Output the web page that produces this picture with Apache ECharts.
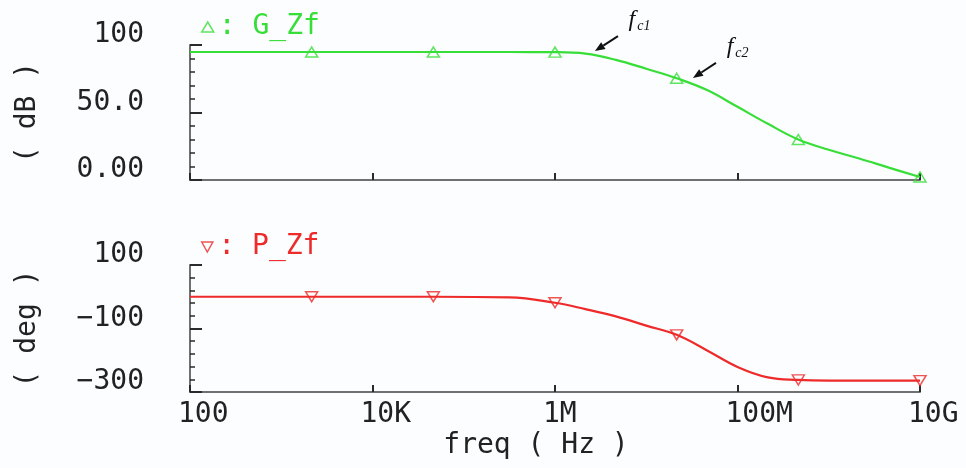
<!DOCTYPE html>
<html>
<head>
<meta charset="utf-8">
<script src="https://cdn.jsdelivr.net/npm/echarts@6/dist/echarts.min.js"></script>
<style>
html,body{margin:0;padding:0;background:#fbfdfe;}
#main{width:966px;height:468px;}
</style>
</head>
<body>
<div id="main"></div>
<script>
// ---- data ----
const freqHz = [100, 2154, 46416, 316228, 1000000, 2154435, 4641589, 10000000, 21544347,
  46415888, 100000000, 215443469, 464158883, 1000000000, 2154434690, 4641588834, 10000000000];
const gainDb = [94.8, 94.8, 94.8, 94.8, 94.7, 93.6, 89.0, 82.4, 75.4, 66.6, 54.2, 41.6, 30.0, 22.4, 15.9, 9.0, 2.2];
const phaseDeg = [0, 0, 0, -2, -19, -39, -62, -91, -120, -169, -221, -254, -262, -264, -264, -264, -264];
const markerIdx = [1, 2, 4, 8, 12, 16];

const xTickValues = [100, 10000, 1000000, 100000000, 10000000000];
const xTickLabels = ['100', '10K', '1M', '100M', '10G'];
const gainTickValues = [0, 50, 100];
const gainTickLabels = ['0.00', '50.0', '100'];
const phaseTickValues = [-300, -100, 100];
const phaseTickLabels = ['\u2212300', '\u2212100', '100'];

const annotNames = ['c1', 'c2'];
const annotFreq = [2740000, 32500000];
const annotGain = [95.5, 75.6];

// ---- styles ----
const GREEN = '#38de38';
const RED = '#ee2a2a';
const MONO = '"DejaVu Sans Mono", monospace';
const FS = 28;
const AXIS = '#707070';
const TICK = '#2a2a2a';

const chart = echarts.init(document.getElementById('main'));

function pair(arr) { return freqHz.map((f, i) => [f, arr[i]]); }
function marks(arr) { return markerIdx.map(i => [freqHz[i], arr[i]]); }
function lbl(values, labels) {
  return v => { const k = values.findIndex(t => Math.abs(t - v) < 1e-6 * Math.max(1, Math.abs(t))); return k >= 0 ? labels[k] : ''; };
}

function xAxis(grid, showLabel) {
  return {
    type: 'log', logBase: 10, gridIndex: grid, min: 100, max: 10000000000, interval: 2,
    axisLine: { show: true, onZero: false, lineStyle: { color: AXIS, width: 2 } },
    axisTick: { show: true, inside: true, length: 7, lineStyle: { color: TICK, width: 2 } },
    minorTick: { show: false },
    splitLine: { show: false },
    axisLabel: {
      show: showLabel, formatter: lbl(xTickValues, xTickLabels), align: 'left',
      padding: [0, 0, 0, -12], margin: 9, showMinLabel: true, showMaxLabel: true,
      fontFamily: MONO, fontSize: FS, color: '#222'
    },
    name: showLabel ? 'freq ( Hz )' : '', nameLocation: 'middle', nameGap: 40,
    nameTextStyle: { fontFamily: MONO, fontSize: FS, color: '#222', padding: [0, 38, 0, 0] }
  };
}
function yAxis(grid, min, max, interval, values, labels, name) {
  return {
    type: 'value', gridIndex: grid, min: min, max: max, interval: interval,
    axisLine: { show: true, onZero: false, lineStyle: { color: AXIS, width: 2 } },
    axisTick: { show: true, inside: true, length: 12, lineStyle: { color: TICK, width: 2 } },
    minorTick: { show: true, splitNumber: 5, length: 5, lineStyle: { color: TICK, width: 1.5 } },
    splitLine: { show: false },
    axisLabel: {
      formatter: lbl(values, labels), verticalAlign: 'bottom', lineHeight: 20, margin: 46,
      fontFamily: MONO, fontSize: FS, color: '#222', showMinLabel: true, showMaxLabel: true
    },
    name: name, nameLocation: 'middle', nameRotate: 90, nameGap: 148,
    nameTextStyle: { fontFamily: MONO, fontSize: FS, color: '#222' }
  };
}

const option = {
  backgroundColor: '#fbfdfe',
  animation: false,
  grid: [
    { left: 190, top: 45, width: 730, height: 135 },
    { left: 190, top: 265, width: 730, height: 127 }
  ],
  xAxis: [xAxis(0, false), xAxis(1, true)],
  yAxis: [
    yAxis(0, 0, 100, 50, gainTickValues, gainTickLabels, '( dB )'),
    yAxis(1, -300, 100, 200, phaseTickValues, phaseTickLabels, '( deg )')
  ],
  legend: [
    { data: ['G_Zf'], left: 196, top: 8, icon: 'triangle', itemWidth: 12, itemHeight: 10,
      formatter: ': {name}', itemStyle: { color: 'rgba(0,0,0,0)', borderColor: GREEN, borderWidth: 1.5 },
      textStyle: { color: GREEN, fontFamily: MONO, fontSize: FS } },
    { data: ['P_Zf'], left: 196, top: 228, icon: 'path://M0,0L10,0L5,9Z', itemWidth: 12, itemHeight: 10,
      formatter: ': {name}', itemStyle: { color: 'rgba(0,0,0,0)', borderColor: RED, borderWidth: 1.5 },
      textStyle: { color: RED, fontFamily: MONO, fontSize: FS } }
  ],
  series: [
    { name: 'gain', type: 'line', xAxisIndex: 0, yAxisIndex: 0, data: pair(gainDb), smooth: 0.4,
      showSymbol: false, lineStyle: { color: GREEN, width: 2.2 }, z: 2 },
    { name: 'G_Zf', type: 'scatter', xAxisIndex: 0, yAxisIndex: 0, data: marks(gainDb),
      symbol: 'triangle', symbolSize: [12, 10],
      itemStyle: { color: 'rgba(0,0,0,0)', borderColor: GREEN, borderWidth: 1.5 }, z: 3 },
    { name: 'phase', type: 'line', xAxisIndex: 1, yAxisIndex: 1, data: pair(phaseDeg), smooth: 0.4,
      showSymbol: false, lineStyle: { color: RED, width: 2.2 }, z: 2 },
    { name: 'P_Zf', type: 'scatter', xAxisIndex: 1, yAxisIndex: 1, data: marks(phaseDeg),
      symbol: 'path://M0,0L10,0L5,9Z', symbolSize: [12, 10],
      itemStyle: { color: 'rgba(0,0,0,0)', borderColor: RED, borderWidth: 1.5 }, z: 3 }
  ]
};
chart.setOption(option);

// ---- annotations (f_c1, f_c2 with arrows), anchored to data coordinates ----
const gfx = [];
annotNames.forEach((nm, i) => {
  const tip = chart.convertToPixel({ gridIndex: 0 }, [annotFreq[i], annotGain[i]]);
  const tail = [tip[0] + 23, tip[1] - 15];
  const dx = tip[0] - tail[0], dy = tip[1] - tail[1];
  const len = Math.sqrt(dx * dx + dy * dy), ux = dx / len, uy = dy / len;
  const hl = 10, hw = 4;
  const base = [tip[0] - ux * hl, tip[1] - uy * hl];
  gfx.push({ type: 'line', shape: { x1: tail[0], y1: tail[1], x2: base[0], y2: base[1] },
    style: { stroke: '#111', lineWidth: 2 }, z: 10 });
  gfx.push({ type: 'polygon', shape: { points: [tip,
    [base[0] - uy * hw, base[1] + ux * hw], [base[0] + uy * hw, base[1] - ux * hw]] },
    style: { fill: '#111' }, z: 10 });
  gfx.push({ type: 'text', x: tip[0] + 37, y: tip[1] - 31,
    style: { text: 'f', font: 'italic 24px "Liberation Serif", serif', fill: '#111',
      textAlign: 'center', textVerticalAlign: 'middle' }, z: 10 });
  gfx.push({ type: 'text', x: tip[0] + 49, y: tip[1] - 25,
    style: { text: nm, font: 'italic 14px "Liberation Serif", serif', fill: '#111',
      textAlign: 'center', textVerticalAlign: 'middle' }, z: 10 });
});
chart.setOption({ graphic: gfx });
</script>
</body>
</html>
